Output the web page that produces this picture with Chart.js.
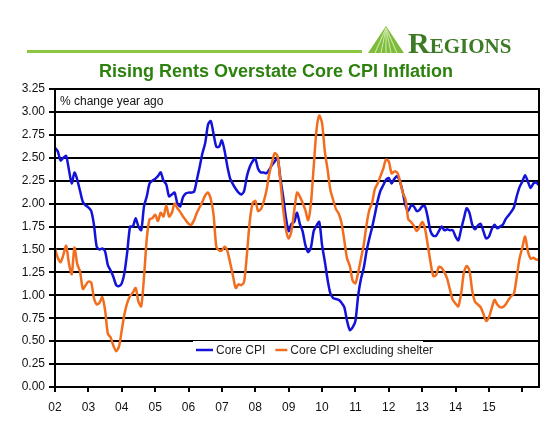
<!DOCTYPE html>
<html>
<head>
<meta charset="utf-8">
<script src="https://cdn.jsdelivr.net/npm/chart.js@4.4.0/dist/chart.umd.min.js"></script>
<style>
  html, body { margin: 0; padding: 0; background: #fff; }
  body { width: 560px; height: 430px; position: relative; overflow: hidden; font-family: Arial, "Liberation Sans", sans-serif; }
  canvas { position: absolute; left: 0; top: 0; }
  #rule { position: absolute; left: 27px; top: 50px; width: 335px; height: 3px; background: #8dc63f; }
  #logo { position: absolute; left: 367px; top: 25px; }
  #brand { position: absolute; left: 408px; top: 28px; font-family: "Liberation Serif", "DejaVu Serif", serif; font-weight: bold; color: #3d7a26; font-size: 30px; line-height: 30px; white-space: nowrap; }
  #brand span { font-size: 21px; }
  #title { position: absolute; left: 0; top: 62px; width: 552px; text-align: center; font-weight: bold; font-size: 18px; line-height: 18px; color: #2d820e; }
</style>
</head>
<body>
<canvas id="cpiChart" width="560" height="430"></canvas>
<div id="rule"></div>
<svg id="logo" width="38" height="30" viewBox="0 0 38 30">
  <polygon points="19,1 37,28 1,28" fill="#7dbb3a"/>
  <g stroke="#c9e6a3" stroke-width="1.2">
    <line x1="19" y1="3" x2="8" y2="28"/>
    <line x1="19" y1="3" x2="14" y2="28"/>
    <line x1="19" y1="3" x2="19" y2="28"/>
    <line x1="19" y1="3" x2="24" y2="28"/>
    <line x1="19" y1="3" x2="30" y2="28"/>
  </g>
</svg>
<div id="brand">R<span>EGIONS</span></div>
<div id="title">Rising Rents Overstate Core CPI Inflation</div>
<script>
// monthly, Jan 2002 .. Jul 2016, % change year ago
const yearLabels = ['02', '03', '04', '05', '06', '07', '08', '09', '10', '11', '12', '13', '14', '15', ''];

const coreCpi = [
    2.61, 2.57, 2.47, 2.50, 2.52, 2.37, 2.22, 2.34, 2.26, 2.14, 2.02, 1.98, // 2002
    1.96, 1.92, 1.77, 1.53, 1.50, 1.51, 1.48, 1.33, 1.27, 1.20, 1.11, 1.10, // 2003
    1.13, 1.25, 1.48, 1.75, 1.75, 1.84, 1.75, 1.71, 1.97, 2.08, 2.22, 2.25, // 2004
    2.27, 2.30, 2.34, 2.25, 2.21, 2.08, 2.10, 2.12, 2.00, 1.97, 2.07, 2.11, // 2005
    2.12, 2.12, 2.13, 2.26, 2.40, 2.55, 2.66, 2.86, 2.90, 2.76, 2.62, 2.62, // 2006
    2.69, 2.57, 2.40, 2.27, 2.21, 2.16, 2.12, 2.10, 2.14, 2.30, 2.40, 2.46, // 2007
    2.49, 2.38, 2.34, 2.34, 2.33, 2.37, 2.42, 2.46, 2.50, 2.28, 2.08, 1.85, // 2008
    1.70, 1.78, 1.80, 1.90, 1.78, 1.70, 1.55, 1.47, 1.52, 1.70, 1.76, 1.80, // 2009
    1.55, 1.37, 1.17, 1.02, 0.97, 0.96, 0.95, 0.92, 0.87, 0.72, 0.62, 0.65, // 2010
    0.72, 1.00, 1.18, 1.30, 1.48, 1.62, 1.74, 1.88, 2.03, 2.14, 2.20, 2.26, // 2011
    2.28, 2.22, 2.27, 2.30, 2.24, 2.13, 1.98, 1.92, 1.98, 1.97, 1.92, 1.93, // 2012
    1.97, 1.97, 1.85, 1.70, 1.65, 1.65, 1.70, 1.75, 1.71, 1.72, 1.71, 1.71, // 2013
    1.64, 1.60, 1.72, 1.84, 1.95, 1.90, 1.77, 1.72, 1.76, 1.78, 1.70, 1.62, // 2014
    1.64, 1.72, 1.77, 1.73, 1.75, 1.77, 1.83, 1.87, 1.91, 1.96, 2.08, 2.18, // 2015
    2.24, 2.31, 2.24, 2.17, 2.22, 2.23, 2.20                                // 2016
];

const coreExShelter = [
    1.51, 1.41, 1.36, 1.44, 1.54, 1.35, 1.23, 1.52, 1.34, 1.26, 1.07, 1.11, // 2002
    1.15, 1.14, 0.97, 0.90, 0.92, 0.98, 0.84, 0.58, 0.54, 0.45, 0.39, 0.44, // 2003
    0.62, 0.80, 0.92, 0.99, 1.03, 1.08, 0.93, 0.88, 1.20, 1.62, 1.83, 1.84, // 2004
    1.88, 1.81, 1.90, 1.86, 1.98, 1.86, 1.90, 2.00, 1.95, 1.91, 1.86, 1.82, // 2005
    1.78, 1.77, 1.82, 1.90, 1.96, 2.02, 2.09, 2.12, 2.05, 1.88, 1.53, 1.49, // 2006
    1.49, 1.53, 1.48, 1.35, 1.21, 1.08, 1.12, 1.11, 1.15, 1.45, 1.80, 2.00, // 2007
    2.03, 1.92, 1.94, 2.02, 2.14, 2.32, 2.45, 2.55, 2.52, 2.25, 1.95, 1.72, // 2008
    1.62, 1.70, 1.92, 2.12, 2.08, 2.01, 1.93, 1.82, 2.00, 2.40, 2.80, 2.96, // 2009
    2.88, 2.57, 2.37, 2.15, 2.04, 1.94, 1.89, 1.79, 1.60, 1.40, 1.32, 1.16, // 2010
    1.13, 1.25, 1.40, 1.55, 1.77, 1.93, 2.01, 2.16, 2.22, 2.30, 2.38, 2.48, // 2011
    2.46, 2.33, 2.35, 2.34, 2.25, 2.12, 2.05, 1.83, 1.80, 1.76, 1.70, 1.74, // 2012
    1.80, 1.73, 1.55, 1.36, 1.21, 1.22, 1.31, 1.30, 1.25, 1.18, 1.06, 0.95, // 2013
    0.91, 0.88, 1.02, 1.25, 1.32, 1.27, 1.05, 0.93, 0.90, 0.87, 0.80, 0.72, // 2014
    0.76, 0.86, 0.95, 0.90, 0.87, 0.87, 0.90, 0.95, 0.99, 1.02, 1.20, 1.40, // 2015
    1.52, 1.64, 1.48, 1.40, 1.41, 1.39, 1.39                                // 2016
];

const seriesNames = ['Core CPI', 'Core CPI excluding shelter'];
const seriesColors = ['#1212d8', '#f26d1d'];

const FONT = 'Arial, "Liberation Sans", sans-serif';

function toPoints(values) {
    return values.map((v, i) => ({ x: i, y: v }));
}

// frame around the plot, the inset legend and the unit note
const framePlugin = {
    id: 'framePlugin',
    afterDraw(chart) {
        const ctx = chart.ctx;
        const area = chart.chartArea;
        ctx.save();
        ctx.strokeStyle = '#000';
        ctx.lineWidth = 2;
        ctx.strokeRect(area.left, area.top, area.right - area.left, area.bottom - area.top);

        // unit note
        ctx.fillStyle = '#111';
        ctx.font = '12px ' + FONT;
        ctx.textBaseline = 'middle';
        ctx.fillText('% change year ago', area.left + 5, area.top + 13);

        // legend box
        const lx = 193, ly = 350;
        ctx.fillStyle = '#fff';
        ctx.fillRect(lx, ly - 9, 230, 19);
        ctx.lineWidth = 2.5;
        let x = lx + 3;
        chart.data.datasets.forEach((ds, i) => {
            ctx.strokeStyle = ds.borderColor;
            ctx.beginPath();
            ctx.moveTo(x, ly);
            ctx.lineTo(x + (i === 0 ? 17 : 12), ly);
            ctx.stroke();
            x += (i === 0 ? 20 : 15);
            ctx.fillStyle = '#222';
            ctx.fillText(ds.label, x, ly + 1);
            x += ctx.measureText(ds.label).width + 10;
        });
        ctx.restore();
    }
};

new Chart(document.getElementById('cpiChart').getContext('2d'), {
    type: 'line',
    data: {
        datasets: [
            {
                label: seriesNames[0],
                data: toPoints(coreCpi),
                borderColor: seriesColors[0],
                borderWidth: 2.5,
                pointRadius: 0,
                tension: 0.25,
                order: 2
            },
            {
                label: seriesNames[1],
                data: toPoints(coreExShelter),
                borderColor: seriesColors[1],
                borderWidth: 2.5,
                pointRadius: 0,
                tension: 0.25,
                order: 1
            }
        ]
    },
    options: {
        responsive: false,
        animation: false,
        layout: { padding: { top: 89, right: 21, left: 0, bottom: 0 } },
        plugins: {
            legend: { display: false },
            tooltip: { enabled: false }
        },
        scales: {
            x: {
                type: 'linear',
                min: 0,
                max: 174,
                afterFit: scale => { scale.height = 43; },
                ticks: {
                    stepSize: 12,
                    includeBounds: false,
                    autoSkip: false,
                    maxRotation: 0,
                    padding: 8,
                    color: '#111',
                    font: { family: FONT, size: 12 },
                    callback: v => yearLabels[v / 12]
                },
                grid: { drawOnChartArea: false, drawTicks: true, tickLength: 5, color: '#000', lineWidth: 2 },
                border: { display: true, color: '#000', width: 2 }
            },
            y: {
                min: 0,
                max: 3.25,
                afterFit: scale => { scale.width = 55; },
                ticks: {
                    stepSize: 0.25,
                    padding: 4,
                    color: '#111',
                    font: { family: FONT, size: 12 },
                    callback: v => v.toFixed(2)
                },
                grid: { color: '#000', lineWidth: 2, tickLength: 6 },
                border: { display: true, color: '#000', width: 2 }
            }
        }
    },
    plugins: [framePlugin]
});
</script>
</body>
</html>
